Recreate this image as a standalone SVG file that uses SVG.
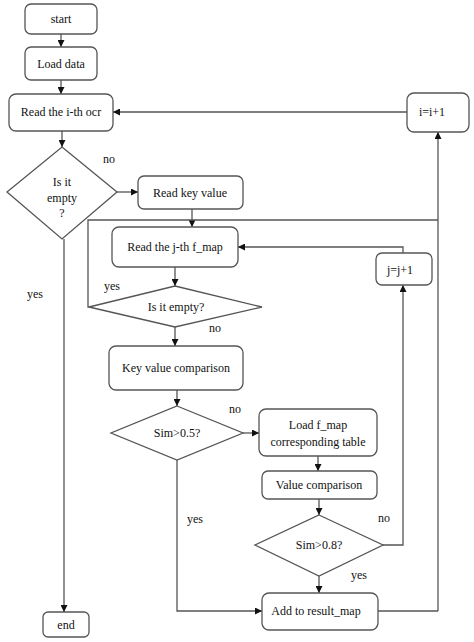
<svg xmlns="http://www.w3.org/2000/svg" width="474" height="642" viewBox="0 0 474 642" font-family="Liberation Serif, Times New Roman, serif" font-size="12">
<defs>
<marker id="arr" viewBox="0 0 10 10" refX="10" refY="5" markerWidth="7" markerHeight="7" markerUnits="userSpaceOnUse" orient="auto">
<path d="M0,0 L10,5 L0,10 z" fill="#111"/>
</marker>
<style>
.box{fill:#fff;stroke:#555;stroke-width:1.3}
.ln{fill:none;stroke:#555;stroke-width:1.3}
.ar{fill:none;stroke:#555;stroke-width:1.3;marker-end:url(#arr)}
text{font-family:'Liberation Serif',serif;font-size:12px;fill:#111}
.c{text-anchor:middle}
</style>
</defs>
<rect width="474" height="642" fill="#fff"/>
<g id="connectors">
<line class="ar" x1="61" y1="34" x2="61" y2="47"/>
<line class="ar" x1="61" y1="80" x2="61" y2="94"/>
<line class="ar" x1="62" y1="131" x2="62" y2="147"/>
<line class="ar" x1="407" y1="112" x2="113" y2="112"/>
<line class="ar" x1="117" y1="192" x2="138" y2="192"/>
<line class="ar" x1="192" y1="209" x2="192" y2="227"/>
<polyline class="ln" points="89,307 88,307 88,220 438,220"/>
<line class="ar" x1="438" y1="611" x2="438" y2="132"/>
<polyline class="ar" points="403,253 403,247 238,247"/>
<line class="ar" x1="175" y1="267" x2="175" y2="286"/>
<line class="ar" x1="175" y1="327" x2="175" y2="346"/>
<line class="ar" x1="177" y1="390" x2="177" y2="406"/>
<line class="ar" x1="243" y1="433" x2="259" y2="433"/>
<line class="ar" x1="318" y1="456" x2="318" y2="471"/>
<line class="ar" x1="319" y1="499" x2="319" y2="515"/>
<polyline class="ar" points="383,545 403,545 403,285"/>
<line class="ar" x1="319" y1="576" x2="319" y2="593"/>
<polyline class="ar" points="177,460 177,611 262,611"/>
<line class="ln" x1="378" y1="611" x2="438" y2="611"/>
<line class="ar" x1="64" y1="239" x2="64" y2="612"/>
</g>
<g id="start"><rect class="box" x="25" y="4" width="72" height="30" rx="6"/><text class="c" x="61" y="23">start</text></g>
<g id="load"><rect class="box" x="25" y="47" width="72" height="33" rx="6"/><text class="c" x="61" y="68">Load data</text></g>
<g id="readocr"><rect class="box" x="9" y="94" width="104" height="37" rx="7"/><text class="c" x="61" y="116">Read the i-th ocr</text></g>
<g id="inci"><rect class="box" x="407" y="93" width="62" height="39" rx="7"/><text class="c" x="432" y="116">i=i+1</text></g>
<g id="empty1"><polygon class="box" points="62,147 117,192 62,239 7,192"/><text class="c" x="62" y="186">Is it</text><text class="c" x="62" y="202">empty</text><text class="c" x="62" y="217">?</text></g>
<g id="readkey"><rect class="box" x="138" y="176" width="105" height="33" rx="6"/><text class="c" x="190" y="197">Read key value</text></g>
<g id="readjth"><rect class="box" x="112" y="227" width="126" height="40" rx="7"/><text class="c" x="175" y="251">Read the j-th f_map</text></g>
<g id="incj"><rect class="box" x="376" y="253" width="56" height="32" rx="6"/><text class="c" x="400" y="274">j=j+1</text></g>
<g id="empty2"><polygon class="box" points="175,286 262,307 175,327 89,307"/><text class="c" x="176" y="311">Is it empty?</text></g>
<g id="keycmp"><rect class="box" x="109" y="346" width="134" height="44" rx="7"/><text class="c" x="176" y="372">Key value comparison</text></g>
<g id="sim05"><polygon class="box" points="177,406 243,433 177,460 111,433"/><text class="c" x="177" y="437">Sim&gt;0.5?</text></g>
<g id="loadfmap"><rect class="box" x="259" y="409" width="118" height="47" rx="7"/><text class="c" x="318" y="429">Load f_map</text><text class="c" x="318" y="446">corresponding table</text></g>
<g id="valcmp"><rect class="box" x="262" y="471" width="115" height="28" rx="6"/><text class="c" x="319" y="489">Value comparison</text></g>
<g id="sim08"><polygon class="box" points="319,515 383,545 319,576 255,545"/><text class="c" x="319" y="549">Sim&gt;0.8?</text></g>
<g id="addresult"><rect class="box" x="262" y="593" width="116" height="37" rx="7"/><text class="c" x="316" y="615">Add to result_map</text></g>
<g id="end"><rect class="box" x="43" y="612" width="46" height="25" rx="5"/><text class="c" x="66" y="629">end</text></g>
<g id="labels">
<text x="103" y="163">no</text>
<text x="27" y="298">yes</text>
<text x="104" y="290">yes</text>
<text x="209" y="332">no</text>
<text x="229" y="413">no</text>
<text x="187" y="523">yes</text>
<text x="378" y="522">no</text>
<text x="351" y="579">yes</text>
</g>
</svg>
